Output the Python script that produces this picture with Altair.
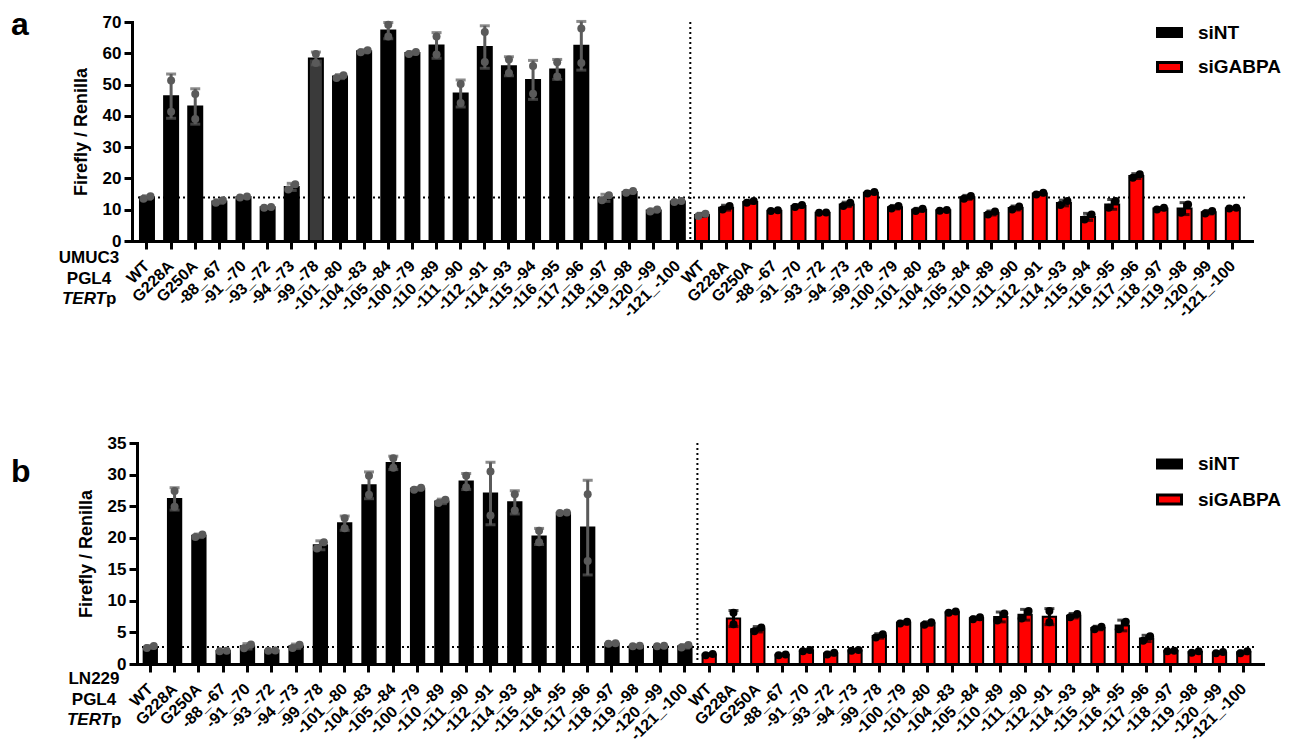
import altair as alt
import pandas as pd

FONT = "Liberation Sans"

labels_siNT = ["WT", "G228A", "G250A", "-88_-67", "-91_-70", "-93_-72", "-94_-73",
               "-99_-78", "-101_-80", "-104_-83", "-105_-84", "-100_-79", "-110_-89",
               "-111_-90", "-112_-91", "-114_-93", "-115_-94", "-116_-95", "-117_-96",
               "-118_-97", "-119_-98", "-120_-99", "-121_-100"]
labels_siGABPA = ["WT", "G228A", "G250A", "-88_-67", "-91_-70", "-93_-72", "-94_-73",
                  "-99_-78", "-100_-79", "-101_-80", "-104_-83", "-105_-84", "-110_-89",
                  "-111_-90", "-112_-91", "-114_-93", "-115_-94", "-116_-95", "-117_-96",
                  "-118_-97", "-119_-98", "-120_-99", "-121_-100"]

# UMUC3 (panel a), two replicates per construct
umuc3_siNT_rep1 = [13.5, 41.3, 39.0, 12.2, 13.9, 10.6, 16.5, 56.9, 52.1, 60.3, 65.4, 59.8,
                   59.6, 44.1, 57.2, 53.7, 47.1, 52.6, 56.9, 13.0, 15.4, 9.4, 12.5]
umuc3_siNT_rep2 = [14.3, 51.3, 47.0, 13.0, 14.2, 10.9, 18.1, 59.8, 53.0, 61.0, 69.1, 60.4,
                   65.4, 50.2, 66.8, 58.0, 55.9, 57.1, 67.9, 14.6, 16.0, 10.1, 12.8]
umuc3_siGABPA_rep1 = [8.0, 10.1, 12.2, 9.6, 10.9, 9.0, 11.2, 15.2, 10.4, 9.6, 9.7, 13.5,
                      8.5, 10.1, 14.9, 11.5, 6.9, 10.6, 20.2, 10.1, 9.0, 8.8, 10.4]
umuc3_siGABPA_rep2 = [8.7, 11.2, 12.8, 9.8, 11.5, 9.1, 12.2, 15.7, 11.2, 10.3, 9.9, 14.4,
                      9.4, 11.0, 15.4, 12.8, 8.5, 12.8, 21.3, 10.6, 11.7, 9.6, 10.6]

# LN229 (panel b)
ln229_siNT_rep1 = [2.55, 24.9, 20.1, 2.0, 2.5, 2.1, 2.55, 18.3, 21.5, 26.8, 31.1, 27.6,
                   25.5, 28.0, 23.5, 24.3, 19.3, 23.9, 16.3, 3.2, 2.8, 2.8, 2.6]
ln229_siNT_rep2 = [2.85, 27.4, 20.5, 2.1, 3.1, 2.15, 3.05, 19.3, 23.1, 29.8, 32.6, 27.9,
                   26.0, 29.8, 30.5, 26.9, 21.1, 24.0, 26.9, 3.3, 2.9, 2.9, 3.0]
ln229_siGABPA_rep1 = [1.4, 6.3, 5.2, 1.4, 2.0, 1.5, 2.1, 4.2, 6.4, 6.2, 8.1, 7.1,
                      6.9, 7.2, 6.6, 7.4, 5.5, 5.5, 3.7, 2.0, 1.8, 1.7, 1.7]
ln229_siGABPA_rep2 = [1.6, 8.1, 5.8, 1.5, 2.2, 1.8, 2.2, 4.7, 6.7, 6.6, 8.3, 7.4,
                      8.0, 8.4, 8.4, 7.9, 5.9, 6.7, 4.4, 2.1, 2.0, 1.9, 2.0]

order = [f"siNT|{c}" for c in labels_siNT] + [f"siGABPA|{c}" for c in labels_siGABPA]


def make_df(nt1, nt2, ga1, ga2):
    rows = []
    for grp, labs, r1, r2 in [("siNT", labels_siNT, nt1, nt2),
                              ("siGABPA", labels_siGABPA, ga1, ga2)]:
        for lab, v1, v2 in zip(labs, r1, r2):
            rows.append(dict(group=grp, cat=lab, key=f"{grp}|{lab}", rep=1, value=v1))
            rows.append(dict(group=grp, cat=lab, key=f"{grp}|{lab}", rep=2, value=v2))
    return pd.DataFrame(rows)


def one(**kw):
    return pd.DataFrame({k: [v] for k, v in kw.items()})


def txt(s, x, y, size=17, align="center", baseline="middle", style="normal"):
    return alt.Chart(one(t=s)).mark_text(
        font=FONT, fontSize=size, fontWeight="bold", fontStyle=style, color="black",
        align=align, baseline=baseline
    ).encode(text="t:N", x=alt.value(x), y=alt.value(y))


def panel(df, letter, cell, ymax, ystep, width, height, xr, pin, pout, xalign, yoff, ox,
          vline_x, hline, letter_y, leg_y, dark_key=None, gray_dot_key=None, anchor=False):
    ppu = height / ymax
    n = len(order)
    step = (xr[1] - xr[0]) / (n - pin + 2 * pout)
    half_bw = step * (1 - pin) / 2
    sc = dict(paddingInner=pin, paddingOuter=pout, align=xalign)
    if xr[0] != 0:
        sc["range"] = list(xr)
    xscale = alt.Scale(**sc)

    xax = alt.Axis(labelExpr="split(datum.label, '|')[1]", labelAngle=-45,
                   labelAlign="right", labelBaseline="middle", labelFont=FONT,
                   labelFontSize=16, labelFontWeight="bold", labelColor="black",
                   labelPadding=14, labelOverlap=False, labelBound=False,
                   domainColor="black", domainWidth=3, domainCap="square",
                   tickColor="black", tickWidth=3, tickSize=8, grid=False)
    yax = alt.Axis(values=list(range(0, ymax + 1, ystep)), offset=yoff,
                   labelFont=FONT, labelFontSize=17, labelFontWeight="bold",
                   labelColor="black", labelPadding=3,
                   domainColor="black", domainWidth=3, domainCap="square",
                   tickColor="black", tickWidth=3, tickSize=8, grid=False,
                   titleFont=FONT, titleFontSize=18, titleFontWeight="bold",
                   titleColor="black", titleX=-51, titleY=height / 2,
                   titleAngle=270, titleAlign="center", titleBaseline="middle")

    def X():
        return alt.X("key:N", sort=order, scale=xscale, axis=xax, title=None)

    def Y(f):
        return alt.Y(f, scale=alt.Scale(domain=[0, ymax], nice=False),
                     axis=yax, title="Firefly / Renilla")

    base = alt.Chart(df)

    hrule = base.transform_filter("datum.key == 'siNT|WT'").transform_aggregate(
        m="mean(value)"
    ).mark_rule(color="black", strokeWidth=2, strokeDash=[2, 3]).encode(
        y=Y("m:Q"), x=alt.value(hline[0]), x2=alt.value(hline[1]))

    bar_conds = []
    if dark_key:
        bar_conds.append({"test": f"datum.key == '{dark_key}'", "value": "#3a3a3a"})
    bar_conds.append({"test": "indexof(datum.key, 'siGABPA') == 0", "value": "#ff0000"})
    bars = base.mark_bar(stroke="black", strokeWidth=2).encode(
        x=X(), y=Y("mean(value):Q"),
        fill=alt.value("black", condition=bar_conds))

    err = base.mark_errorbar(extent="stdev", ticks=True, size=10, thickness=3).encode(
        x=X(), y=Y("value:Q"),
        color=alt.value("black", condition=[
            {"test": "indexof(datum.key, 'siNT') == 0", "value": "#5a5a5a"}]))

    dot_test = "indexof(datum.key, 'siNT') == 0"
    if gray_dot_key:
        dot_test += f" || datum.key == '{gray_dot_key}'"
    pts = base.transform_joinaggregate(
        lo="min(value)", hi="max(value)", groupby=["key"]
    ).transform_calculate(
        dx=f"{half_bw} + ((datum.hi - datum.lo) * {ppu} < 9 ? (datum.rep == 1 ? -3.5 : 3.5) : 0)"
    ).mark_circle(size=64, opacity=1).encode(
        x=X(), y=Y("value:Q"),
        xOffset=alt.XOffset("dx:Q", scale=None),
        color=alt.value("black", condition=[{"test": dot_test, "value": "#5a5a5a"}]))

    vrule = alt.Chart(one(d=0)).mark_rule(
        color="black", strokeWidth=2, strokeDash=[2, 3]
    ).encode(x=alt.value(vline_x), y=alt.value(0), y2=alt.value(height))

    layers = [hrule, bars, err, pts, vrule]

    # row labels under the axis
    layers += [
        txt(cell, -43 + ox, 236),
        txt("PGL4", -43 + ox, 256.5),
        txt("TERT", -26 + ox, 277, align="right", style="italic"),
        txt("p", -26 + ox, 277, align="left"),
        txt(letter, -121, letter_y, size=32, align="left", baseline="alphabetic"),
    ]

    # legend
    lx0, lx1 = 1024, 1051
    y1, y2 = leg_y
    layers += [
        alt.Chart(one(d=0)).mark_rect(color="black").encode(
            x=alt.value(lx0), x2=alt.value(lx1), y=alt.value(y1 - 5.5), y2=alt.value(y1 + 5.5)),
        alt.Chart(one(d=0)).mark_rect(fill="#ff0000", stroke="black", strokeWidth=3).encode(
            x=alt.value(lx0 + 1.5), x2=alt.value(lx1 - 1.5),
            y=alt.value(y2 - 4.5), y2=alt.value(y2 + 4.5)),
        txt("siNT", 1066, y1, size=19, align="left"),
        txt("siGABPA", 1066, y2, size=19, align="left"),
    ]

    if anchor:
        layers.append(alt.Chart(one(d=0)).mark_point(opacity=0, size=1).encode(
            x=alt.value(-123), y=alt.value(-13)))

    return alt.layer(*layers).properties(width=width, height=height)


df_a = make_df(umuc3_siNT_rep1, umuc3_siNT_rep2, umuc3_siGABPA_rep1, umuc3_siGABPA_rep2)
df_b = make_df(ln229_siNT_rep1, ln229_siNT_rep2, ln229_siGABPA_rep1, ln229_siGABPA_rep2)

pa = panel(df_a, "a", "UMUC3", 70, 10, 1120, 219, (0, 1120), 0.42, 0.4175, 0.396,
           0, 0, 558.3, (6, 1114), 12.5, (10.5, 45),
           dark_key="siNT|-99_-78", gray_dot_key="siGABPA|WT", anchor=True)
pb = panel(df_b, "b", "LN229", 35, 5, 1131, 221, (5, 1131), 0.453, 0.395, 0.346,
           -5, 5, 565.4, (5, 1124), 39, (21, 56.5))

chart = alt.vconcat(pa, pb, spacing=202, bounds="flush").resolve_scale(
    x="independent", y="independent"
).properties(padding=0).configure_view(stroke=None)

chart.save("out.html", embed_options={"renderer": "svg", "actions": False})
